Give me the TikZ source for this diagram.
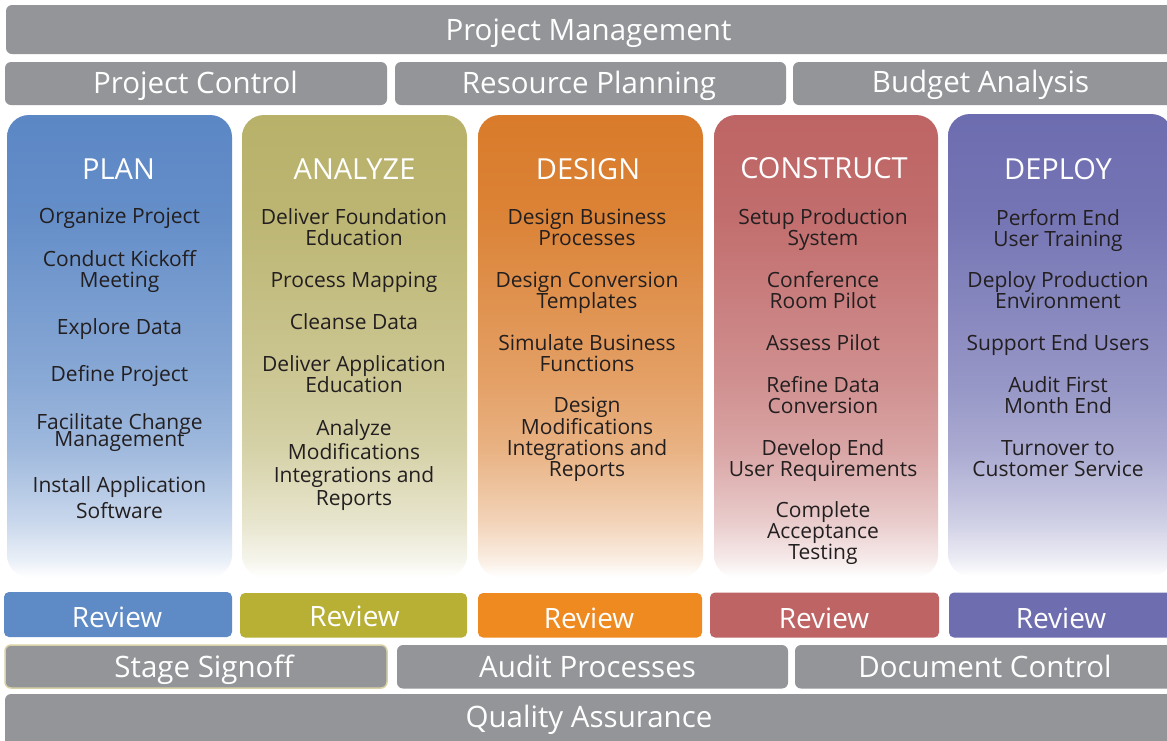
\documentclass[tikz,border=0pt]{standalone}
\usepackage{fontspec}
\setmainfont{Open Sans}
\definecolor{barg}{HTML}{939598}
\definecolor{txt}{HTML}{231F20}
\definecolor{beige}{HTML}{D9D1A6}
\definecolor{cplan}{HTML}{5B87C5}
\definecolor{canal}{HTML}{B8B16A}
\definecolor{cdes}{HTML}{D97B2A}
\definecolor{ccon}{HTML}{BE6464}
\definecolor{cdep}{HTML}{6C6CB0}
\definecolor{rplan}{HTML}{5E8AC6}
\definecolor{ranal}{HTML}{B8B034}
\definecolor{rdes}{HTML}{EF8A20}
\definecolor{rcon}{HTML}{BE6464}
\definecolor{rdep}{HTML}{6E6DB0}
\newcommand\mkshade[2]{\pgfdeclareverticalshading{#1}{100bp}{color(0bp)=(white); color(25bp)=(white); color(26.8bp)=(#2!13!white); color(31.2bp)=(#2!34!white); color(38.7bp)=(#2!58!white); color(46.3bp)=(#2!72!white); color(64bp)=(#2!94!white); color(75bp)=(#2); color(100bp)=(#2)}}
\mkshade{shplan}{cplan}
\mkshade{shanal}{canal}
\mkshade{shdes}{cdes}
\mkshade{shcon}{ccon}
\mkshade{shdep}{cdep}
\begin{document}
\begin{tikzpicture}[x=1pt,y=-1pt,
  bar/.style={fill=barg, rounded corners=6pt},
  colbox/.style={rounded corners=22pt},
  bartxt/.style={anchor=base, text=white, inner sep=0pt, font=\fontsize{29.5}{30}\selectfont},
  ttl/.style={anchor=base, text=white, inner sep=0pt, font=\fontsize{29}{30}\selectfont},
  rev/.style={anchor=base, text=white, inner sep=0pt, font=\fontsize{28}{30}\selectfont},
  itm/.style={anchor=base, align=center, text=txt, inner sep=0pt, font=\fontsize{21}{21}\selectfont}]
\useasboundingbox (0,0) rectangle (1167,740);
\clip (0,0) rectangle (1167,740);
\fill[white] (0,0) rectangle (1167,740);
% top bars
\fill[bar] (6,5) rectangle (1185,54);
\node[bartxt] (pm) at (588.5,40.5) {Project Management};
\fill[bar] (5,62) rectangle (387,105);
\node[bartxt] (pc) at (195.5,93) {Project Control};
\fill[bar] (395,62) rectangle (786,105);
\node[bartxt] (rp) at (589,93) {Resource Planning};
\fill[bar] (793,62) rectangle (1185,105);
\node[bartxt] (ba) at (980.5,92.5) {Budget Analysis};
% columns
\path[colbox, shading=shplan] (7,115) rectangle (232,577);
\path[colbox, shading=shanal] (242,115) rectangle (467,577);
\path[colbox, shading=shdes] (478,115) rectangle (703,577);
\path[colbox, shading=shcon] (714,115) rectangle (938,577);
\path[colbox, shading=shdep] (948,114) rectangle (1173,576);
% titles
\node[ttl] (tplan) at (118.5,179) {PLAN};
\node[ttl] (tanal) at (354.5,179) {ANALYZE};
\node[ttl] (tdes) at (588,179) {DESIGN};
\node[ttl] (tcon) at (824,178) {CONSTRUCT};
\node[ttl] (tdep) at (1058,179) {DEPLOY};
% PLAN items (anchor = baseline of last line)
\node[itm] (p1) at (119.5,223.5) {Organize Project};
\node[itm] (p2) at (119.5,287) {Conduct Kickoff\\Meeting};
\node[itm] (p3) at (119.5,334) {Explore Data};
\node[itm] (p4) at (119.5,381.5) {Define Project};
\node[itm] (p5) at (119.5,446) {Facilitate Change\\[-4pt]Management};
\node[itm] (p6) at (119.5,518.5) {Install Application\\[4pt]Software};
% ANALYZE items
\node[itm] (a1) at (354,245) {Deliver Foundation\\Education};
\node[itm] (a2) at (354,287.5) {Process Mapping};
\node[itm] (a3) at (354,329.5) {Cleanse Data};
\node[itm] (a4) at (354,392.5) {Deliver Application\\Education};
\node[itm] (a5) at (354,505) {Analyze\\[1.7pt]Modifications\\[1.7pt]Integrations and\\[1.7pt]Reports};
% DESIGN items
\node[itm] (d1) at (587,245.5) {Design Business\\Processes};
\node[itm] (d2) at (587,308.5) {Design Conversion\\Templates};
\node[itm] (d3) at (587,371) {Simulate Business\\Functions};
\node[itm] (d4) at (587,476.5) {Design\\Modifications\\Integrations and\\Reports};
% CONSTRUCT items
\node[itm] (c1) at (823,245.5) {Setup Production\\System};
\node[itm] (c2) at (823,308.5) {Conference\\Room Pilot};
\node[itm] (c3) at (823,350) {Assess Pilot};
\node[itm] (c4) at (823,413) {Refine Data\\Conversion};
\node[itm] (c5) at (823,476) {Develop End\\User Requirements};
\node[itm] (c6) at (823,559.5) {Complete\\Acceptance\\Testing};
% DEPLOY items
\node[itm] (e1) at (1058,246) {Perform End\\User Training};
\node[itm] (e2) at (1058,308) {Deploy Production\\Environment};
\node[itm] (e3) at (1058,350) {Support End Users};
\node[itm] (e4) at (1058,413) {Audit First\\Month End};
\node[itm] (e5) at (1058,476) {Turnover to\\Customer Service};
% review row
\fill[rplan, rounded corners=5pt] (4,592) rectangle (232,637);
\node[rev] (r1) at (117,627) {Review};
\fill[ranal, rounded corners=5pt] (240,593) rectangle (467,637.5);
\node[rev] (r2) at (354.5,626) {Review};
\fill[rdes, rounded corners=5pt] (478,593) rectangle (702,637.5);
\node[rev] (r3) at (589,628) {Review};
\fill[rcon, rounded corners=5pt] (710,592.5) rectangle (939,637.5);
\node[rev] (r4) at (824,628) {Review};
\fill[rdep, rounded corners=5pt] (949,592.5) rectangle (1185,637.5);
\node[rev] (r5) at (1061,628) {Review};
% signoff row
\path[bar, draw=beige, line width=1.5pt] (5,645) rectangle (387,688);
\node[bartxt] (ss) at (204,677) {Stage Signoff};
\fill[bar] (397,645) rectangle (788,688.5);
\node[bartxt] (ap) at (587.5,677) {Audit Processes};
\fill[bar] (795,645) rectangle (1185,688.5);
\node[bartxt] (dc) at (985,677) {Document Control};
\fill[bar] (5,694) rectangle (1185,760);
\node[bartxt] (qa) at (589,727) {Quality Assurance};
\end{tikzpicture}
\end{document}
